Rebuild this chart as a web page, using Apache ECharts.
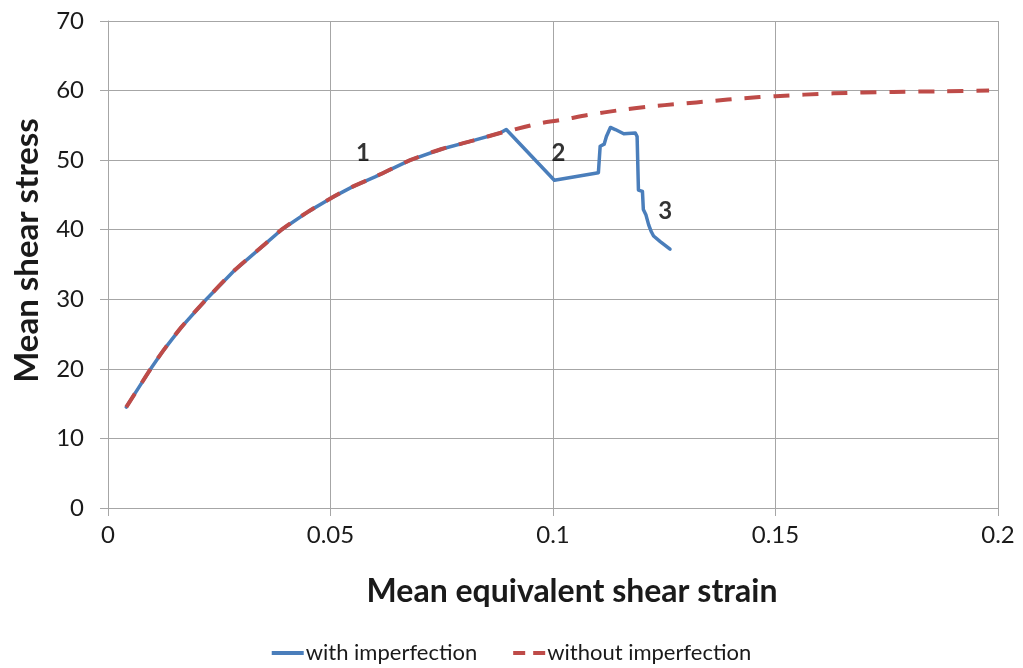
<!DOCTYPE html>
<html>
<head>
<meta charset="utf-8">
<title>Mean shear stress vs. mean equivalent shear strain</title>
<script src="https://cdn.jsdelivr.net/npm/echarts@6/dist/echarts.min.js"></script>
<style>
  html, body { margin: 0; padding: 0; background: #ffffff; }
  #chart { width: 1023px; height: 668px; }
</style>
</head>
<body>
<div id="chart"></div>
<script>
// Strain (x) and stress (y) for the perfect model
const strainWithout = [0.0041, 0.006, 0.0096, 0.0125, 0.0165, 0.0221, 0.0285, 0.0345, 0.039, 0.045,
  0.050, 0.055, 0.060, 0.0679, 0.075, 0.082, 0.0881, 0.090, 0.0971, 0.1016, 0.108, 0.1151,
  0.1216, 0.1286, 0.1358, 0.1428, 0.150, 0.163, 0.1765, 0.188, 0.198];
const stressWithout = [14.5, 16.4, 20.0, 22.7, 26.0, 30.0, 34.2, 37.5, 40.0, 42.6,
  44.5, 46.2, 47.6, 50.0, 51.6, 52.8, 53.9, 54.2, 55.3, 55.75, 56.5, 57.2,
  57.7, 58.1, 58.5, 58.9, 59.2, 59.6, 59.8, 59.9, 60.0];

// Strain (x) and stress (y) for the model with an initial imperfection
const strainWith = [0.0041, 0.006, 0.0096, 0.0125, 0.0165, 0.0221, 0.0285, 0.0345, 0.039, 0.045,
  0.050, 0.055, 0.060, 0.0679, 0.075, 0.082, 0.0881, 0.0895, 0.1003, 0.1102, 0.1106, 0.1115,
  0.1120, 0.1129, 0.1140, 0.1159, 0.1185, 0.1189, 0.1192, 0.1201, 0.1203, 0.1209, 0.1215,
  0.1221, 0.1226, 0.1241, 0.1263];
const stressWith = [14.5, 16.4, 20.0, 22.7, 26.0, 30.0, 34.2, 37.5, 40.0, 42.6,
  44.5, 46.2, 47.6, 50.0, 51.6, 52.8, 53.9, 54.4, 47.1, 48.2, 52.0, 52.3,
  53.4, 54.7, 54.4, 53.8, 53.9, 53.4, 45.7, 45.5, 42.9, 42.1, 40.7,
  39.7, 39.1, 38.3, 37.2];

// Stage markers placed on the curve
const stageNames = ['1', '2', '3'];
const stageStrain = [0.0573, 0.1012, 0.1252];
const stageStress = [51.0, 51.0, 42.7];

const xTicks = { min: 0, max: 0.2, interval: 0.05 };
const yTicks = { min: 0, max: 70, interval: 10 };

const pair = (xs, ys) => xs.map((x, i) => [x, ys[i]]);

const FONT = 'Lato, "Open Sans", sans-serif';
const GRID_COLOR = '#a6a6a6';
const TEXT_COLOR = '#1a1a1a';
const BLUE = '#4a7ebb';
const RED = '#be4b48';

const chart = echarts.init(document.getElementById('chart'), null, { renderer: 'canvas' });

chart.setOption({
  animation: false,
  backgroundColor: '#ffffff',
  textStyle: { fontFamily: FONT },
  grid: { left: 108, right: 25, top: 21, bottom: 160, containLabel: false, outerBoundsMode: 'none' },
  legend: {
    data: [
      { name: 'with imperfection', icon: 'path://M0,0h32v4h-32z', itemStyle: { color: BLUE } },
      { name: 'without imperfection', icon: 'path://M0,0h12v4h-12z M20,0h12v4h-12z', itemStyle: { color: RED } }
    ],
    left: 'center',
    top: 637,
    itemWidth: 32,
    itemHeight: 4,
    itemGap: 36,
    textStyle: { fontFamily: FONT, fontSize: 22, color: TEXT_COLOR, padding: [0, 0, 0, -3] }
  },
  xAxis: {
    type: 'value',
    min: xTicks.min,
    max: xTicks.max,
    interval: xTicks.interval,
    name: 'Mean equivalent shear strain',
    nameLocation: 'middle',
    nameGap: 68,
    nameTextStyle: { fontFamily: FONT, fontSize: 32, fontWeight: 'bold', color: TEXT_COLOR, padding: [0, 0, 0, 38] },
    axisLine: { show: true, lineStyle: { color: GRID_COLOR, width: 1 } },
    axisTick: { show: true, inside: false, length: 8, lineStyle: { color: GRID_COLOR } },
    axisLabel: { fontFamily: FONT, fontSize: 24, color: TEXT_COLOR, margin: 15 },
    splitLine: { show: true, lineStyle: { color: GRID_COLOR, width: 1 } }
  },
  yAxis: {
    type: 'value',
    min: yTicks.min,
    max: yTicks.max,
    interval: yTicks.interval,
    name: 'Mean shear stress',
    nameLocation: 'middle',
    nameGap: 64,
    nameRotate: 90,
    nameTextStyle: { fontFamily: FONT, fontSize: 33, fontWeight: 'bold', color: TEXT_COLOR, padding: [0, 0, 0, 28] },
    axisLine: { show: true, lineStyle: { color: GRID_COLOR, width: 1 } },
    axisTick: { show: true, inside: false, length: 8, lineStyle: { color: GRID_COLOR } },
    axisLabel: { fontFamily: FONT, fontSize: 24, color: TEXT_COLOR, margin: 24 },
    splitLine: { show: true, lineStyle: { color: GRID_COLOR, width: 1 } }
  },
  series: [
    {
      name: 'with imperfection',
      type: 'line',
      data: pair(strainWith, stressWith),
      showSymbol: false,
      symbol: 'none',
      lineStyle: { color: BLUE, width: 3.5, cap: 'round', join: 'round' },
      itemStyle: { color: BLUE },
      z: 2
    },
    {
      name: 'without imperfection',
      type: 'line',
      data: pair(strainWithout, stressWithout),
      smooth: 0.3,
      showSymbol: false,
      symbol: 'none',
      lineStyle: { color: RED, width: 4, type: [16, 13], cap: 'butt' },
      itemStyle: { color: RED },
      z: 3
    },
    {
      name: 'stages',
      type: 'scatter',
      data: stageNames.map((n, i) => ({ name: n, value: [stageStrain[i], stageStress[i]] })),
      symbolSize: 1,
      itemStyle: { color: 'rgba(0,0,0,0)' },
      silent: true,
      label: {
        show: true,
        position: 'inside',
        formatter: p => p.name,
        fontFamily: FONT,
        fontSize: 24,
        fontWeight: 'bold',
        color: '#000000'
      },
      z: 4
    }
  ]
});
</script>
</body>
</html>
